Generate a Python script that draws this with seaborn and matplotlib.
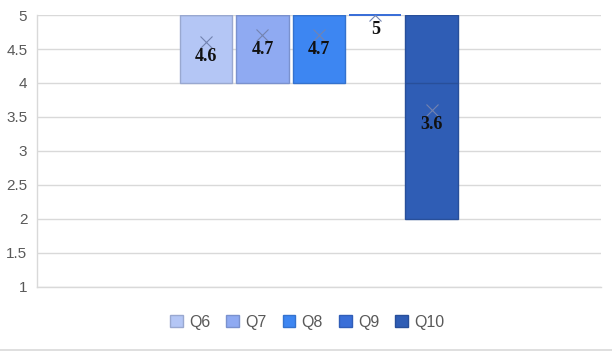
import numpy as np
import pandas as pd
import matplotlib
matplotlib.use("Agg")
import matplotlib.pyplot as plt
import matplotlib.colors as mcolors
from matplotlib.lines import Line2D
import seaborn as sns

# ---- data (response counts per score, read from the box stats / means) ----
scores = [1, 2, 3, 4, 5]
questions = ["Q6", "Q7", "Q8", "Q9", "Q10"]
q6_counts = [0, 0, 0, 2, 3]
q7_counts = [0, 0, 0, 6, 14]
q8_counts = [0, 0, 0, 6, 14]
q9_counts = [0, 0, 0, 0, 5]
q10_counts = [0, 2, 0, 1, 2]
colors = ["#b4c6f5", "#8faaf2", "#3d86f2", "#3a6fd8", "#2f5db5"]
y_ticks = [1, 1.5, 2, 2.5, 3, 3.5, 4, 4.5, 5]

counts = [q6_counts, q7_counts, q8_counts, q9_counts, q10_counts]
rows = []
for q, c in zip(questions, counts):
    for s, n in zip(scores, c):
        rows += [{"group": "all", "question": q, "score": s}] * n
df = pd.DataFrame(rows)

sns.set_theme(style="white")
plt.rcParams["font.family"] = ["Liberation Sans", "DejaVu Sans"]

fig = plt.figure(figsize=(6.12, 3.53), dpi=100)
ax = fig.add_axes([0.0605, 0.187, 0.921, 0.7705])

sns.boxplot(data=df, x="group", y="score", hue="question", hue_order=questions,
            palette=colors, width=0.5, gap=0.07, showcaps=False, showfliers=False,
            whis=(0, 100), saturation=1, showmeans=True, linewidth=1,
            meanprops=dict(marker="x", markeredgecolor="#7383b0",
                           markersize=8, markeredgewidth=0.8),
            legend=True, ax=ax)

def darker(c, f=0.85):
    return tuple(v * f for v in mcolors.to_rgb(c))

boxes = []
for p in ax.patches:
    v = p.get_path().vertices[:4]
    boxes.append((p, v[:, 0].min(), v[:, 0].max(), v[:, 1].max() - v[:, 1].min()))

for p, x0, x1, h in boxes:
    fc = mcolors.to_rgb(p.get_facecolor())
    if h < 1e-9:
        p.set_edgecolor(fc)
        p.set_linewidth(1.3)
        p.set_clip_on(False)
    else:
        p.set_edgecolor(darker(fc))
        p.set_linewidth(1.0)

for ln in ax.lines:
    if ln.get_marker() == "x":
        continue
    xd = np.asarray(ln.get_xdata(), float)
    if xd.size == 0:
        continue
    xm = xd.mean()
    for p, x0, x1, h in boxes:
        if x0 - 1e-6 <= xm <= x1 + 1e-6:
            fc = mcolors.to_rgb(p.get_facecolor())
            if h < 1e-9:
                ln.set_color(fc)
                ln.set_linewidth(1.3)
                ln.set_clip_on(False)
            else:
                ln.set_color(darker(fc))
            break

# mean labels
for ln in ax.lines:
    if ln.get_marker() == "x":
        x = ln.get_xdata()[0]
        y = ln.get_ydata()[0]
        ax.annotate(f"{round(y, 1):g}", (x, y), xytext=(0, -4),
                    textcoords="offset points", ha="center", va="top",
                    fontsize=13, fontweight="bold", color="#111111",
                    family=["Liberation Serif", "DejaVu Serif"])

ax.set_ylim(1, 5)
ax.set_xlim(-0.5, 0.5)
ax.set_yticks(y_ticks)
ax.set_yticklabels([f"{t:g}" for t in y_ticks])
ax.tick_params(axis="y", length=0, pad=7, labelsize=11, labelcolor="#595959")
ax.set_xticks([])
ax.set_xlabel("")
ax.set_ylabel("")
ax.yaxis.grid(True, color="#d9d9d9", linewidth=1)
ax.set_axisbelow(True)
for s in ["top", "right"]:
    ax.spines[s].set_visible(False)
for s in ["left", "bottom"]:
    ax.spines[s].set_color("#d9d9d9")
    ax.spines[s].set_linewidth(1)

# legend
handles, labels = ax.get_legend_handles_labels()
ax.legend_.remove()
for h in handles:
    h.set_edgecolor(darker(h.get_facecolor()))
fig.legend(handles, labels, loc="center", bbox_to_anchor=(0.502, 0.087),
           ncol=5, frameon=False, fontsize=11.5, labelcolor="#595959",
           handlelength=0.8, handleheight=0.8, handletextpad=0.4,
           columnspacing=1.0)

fig.add_artist(Line2D([0, 1], [0.008, 0.008], transform=fig.transFigure,
                      color="#d9d9d9", linewidth=1.2))

fig.savefig("out.png", dpi=100)
